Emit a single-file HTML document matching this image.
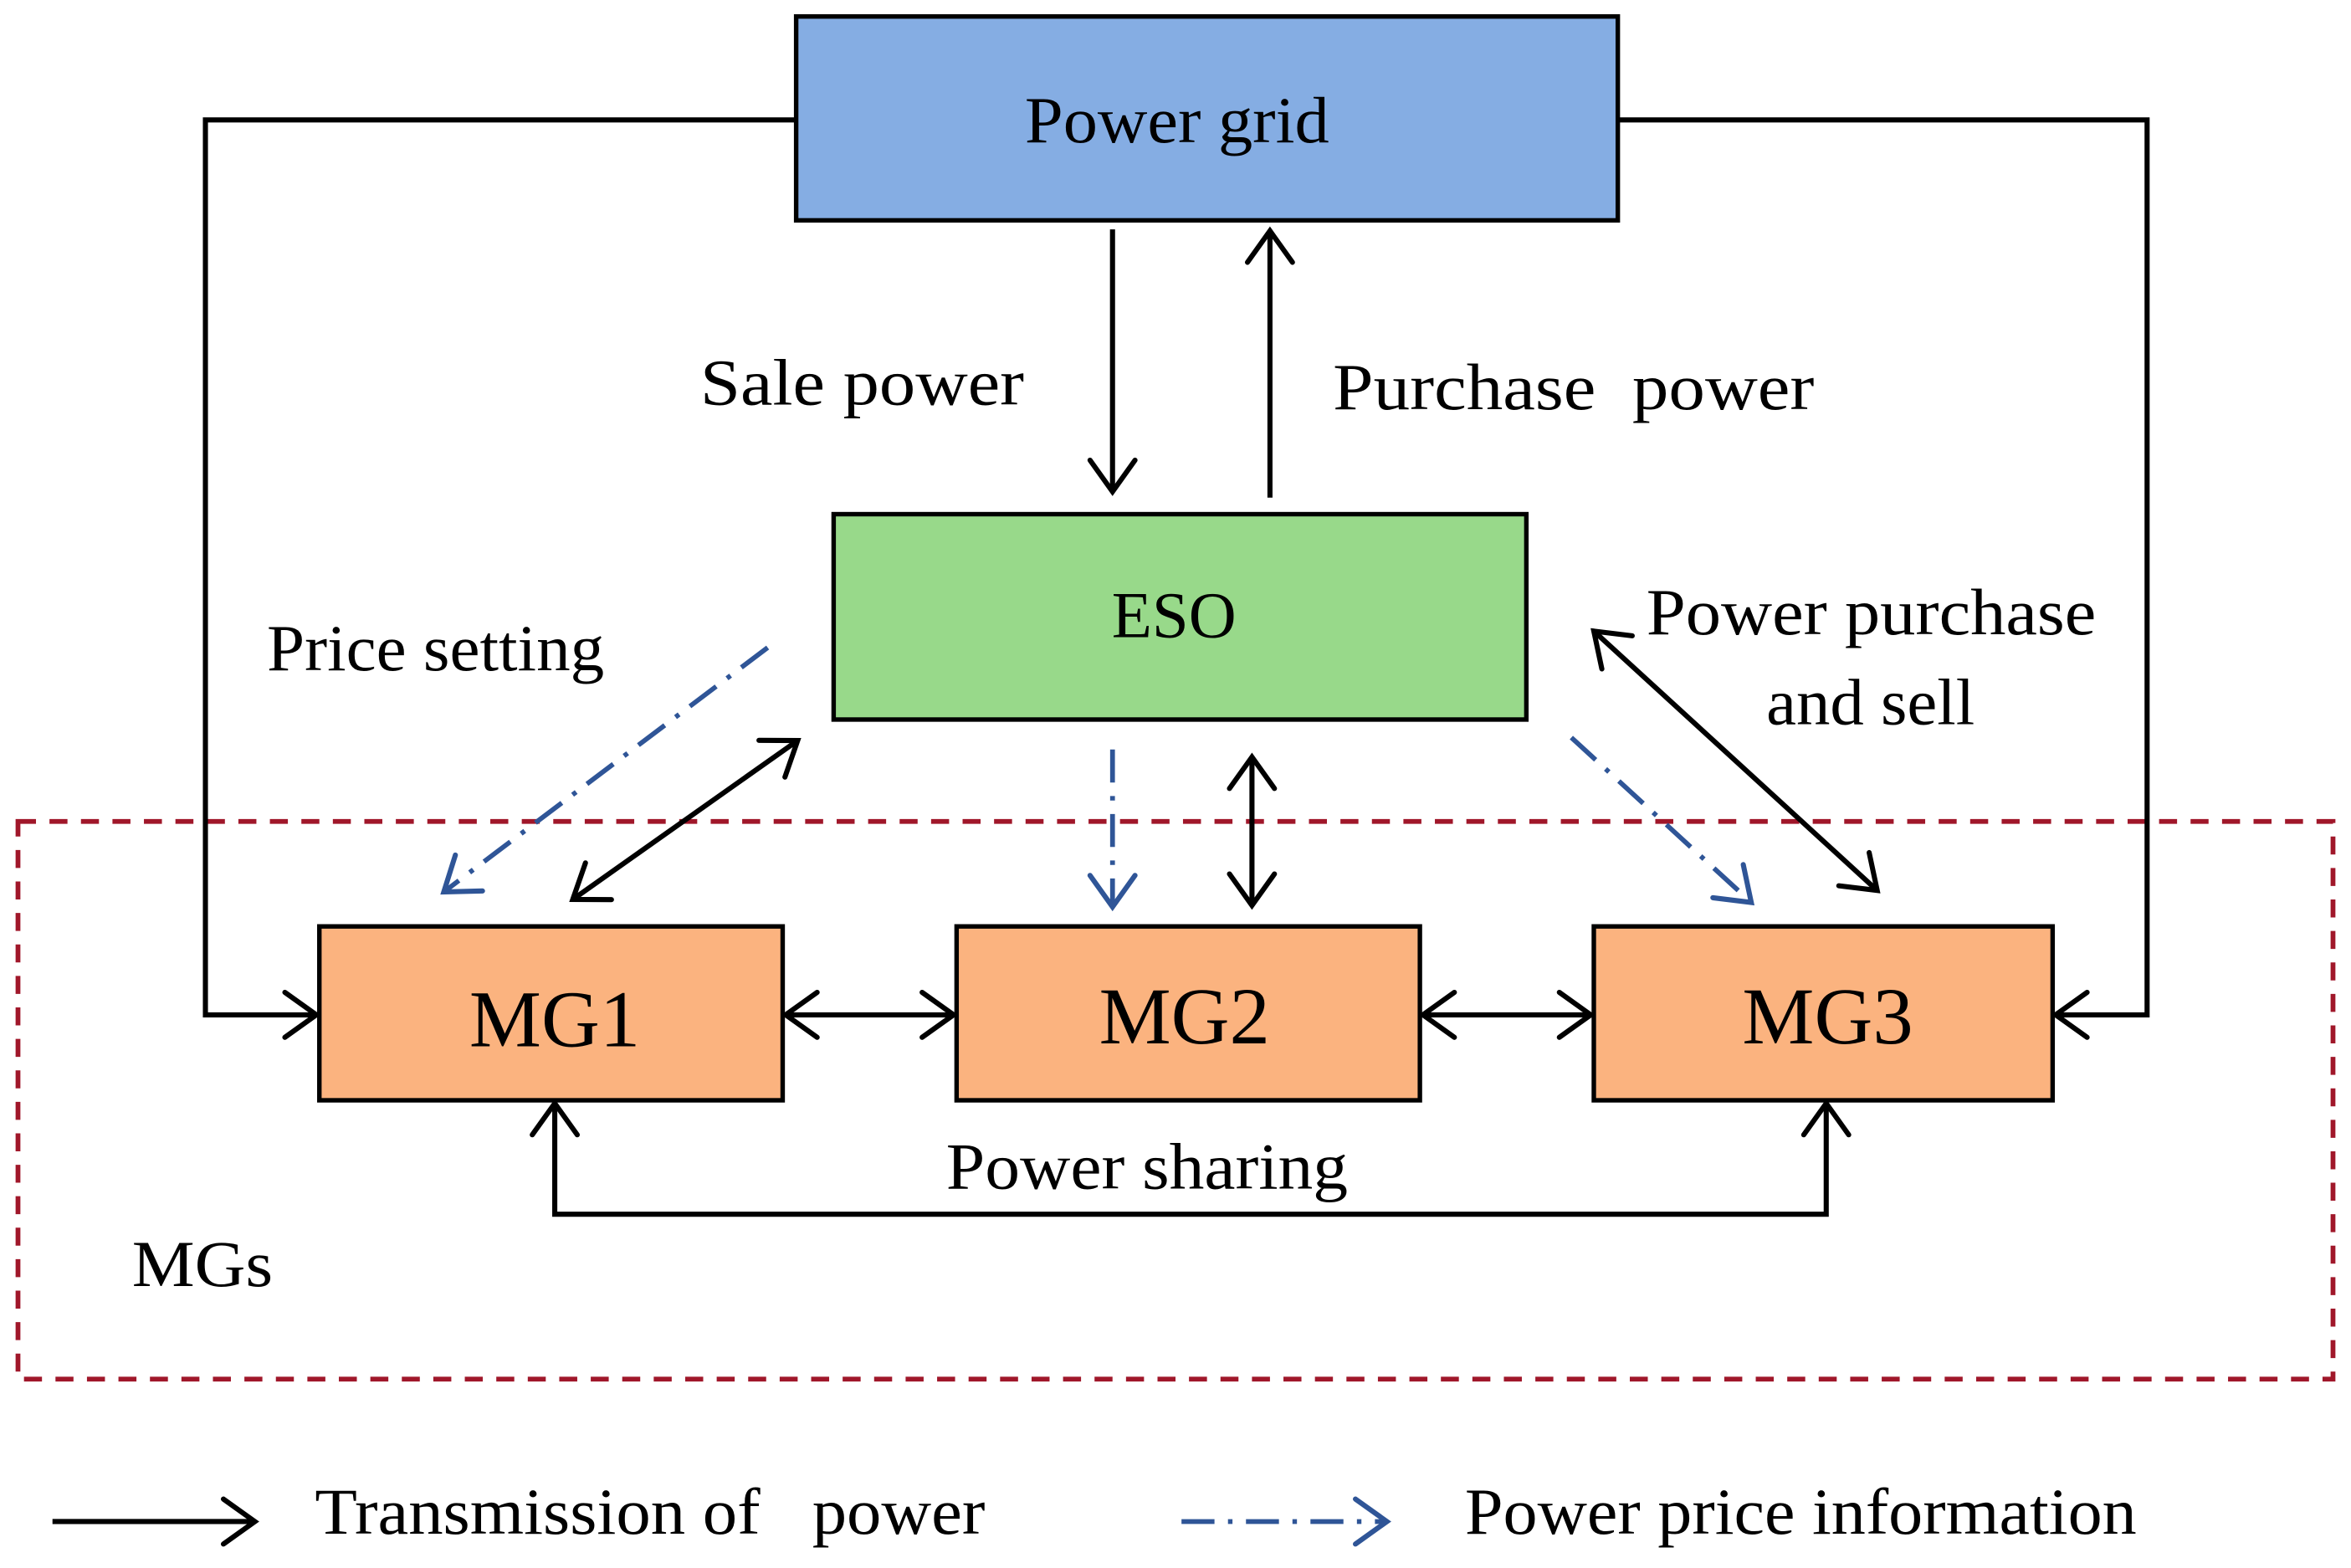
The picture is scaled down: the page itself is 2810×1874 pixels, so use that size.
<!DOCTYPE html>
<html><head><meta charset="utf-8"><style>
html,body{margin:0;padding:0;background:#fff}
svg{display:block}
text{font-family:"Liberation Serif",serif;fill:#000}
</style></head><body>
<svg width="2810" height="1874" viewBox="0 0 1568 1046" preserveAspectRatio="none" xmlns="http://www.w3.org/2000/svg">
<defs>
<marker id="a" viewBox="0 0 26 34" refX="23" refY="17" markerWidth="26" markerHeight="34" markerUnits="userSpaceOnUse" orient="auto-start-reverse">
<path d="M2 2 L23 17 L2 32" fill="none" stroke="#000" stroke-width="3.4" stroke-linecap="round"/></marker>
<marker id="b" viewBox="0 0 26 34" refX="23" refY="17" markerWidth="26" markerHeight="34" markerUnits="userSpaceOnUse" orient="auto">
<path d="M2 2 L23 17 L2 32" fill="none" stroke="#2F5597" stroke-width="3.4" stroke-linecap="round"/></marker>
</defs>
<rect x="12" y="548" width="1544" height="372" fill="none" stroke="#A0172A" stroke-width="3.2" stroke-dasharray="12,9"/>
<rect x="531" y="11" width="548" height="136" fill="#85ADE3" stroke="#000" stroke-width="3"/>
<text x="785" y="95" font-size="44" text-anchor="middle" textLength="203" lengthAdjust="spacingAndGlyphs">Power grid</text>
<rect x="556" y="343" width="462" height="137" fill="#98D98A" stroke="#000" stroke-width="3"/>
<text x="783" y="425" font-size="44" text-anchor="middle">ESO</text>
<rect x="213" y="618" width="309" height="116" fill="#FBB37F" stroke="#000" stroke-width="3"/>
<rect x="638" y="618" width="309" height="116" fill="#FBB37F" stroke="#000" stroke-width="3"/>
<rect x="1063" y="618" width="306" height="116" fill="#FBB37F" stroke="#000" stroke-width="3"/>
<text x="370" y="698" font-size="54" text-anchor="middle">MG1</text>
<text x="790" y="696" font-size="54" text-anchor="middle">MG2</text>
<text x="1219" y="696" font-size="54" text-anchor="middle">MG3</text>
<g stroke="#000" stroke-width="3.4" fill="none">
<line x1="742" y1="153" x2="742" y2="328" marker-end="url(#a)"/>
<line x1="847" y1="332" x2="847" y2="154" marker-end="url(#a)"/>
<polyline points="531,80 137,80 137,677 211,677" marker-end="url(#a)"/>
<polyline points="1079,80 1432,80 1432,677 1371,677" marker-end="url(#a)"/>
<line x1="524" y1="677" x2="636" y2="677" marker-start="url(#a)" marker-end="url(#a)"/>
<line x1="949" y1="677" x2="1061" y2="677" marker-start="url(#a)" marker-end="url(#a)"/>
<polyline points="370,736 370,810 1218,810 1218,736" marker-start="url(#a)" marker-end="url(#a)"/>
<line x1="382" y1="600" x2="532" y2="494" marker-start="url(#a)" marker-end="url(#a)"/>
<line x1="835" y1="505" x2="835" y2="604" marker-start="url(#a)" marker-end="url(#a)"/>
<line x1="1063" y1="421" x2="1252" y2="594" marker-start="url(#a)" marker-end="url(#a)"/>
<line x1="35" y1="1015" x2="170" y2="1015" marker-end="url(#a)"/>
</g>
<g stroke="#2F5597" stroke-width="3.2" fill="none" stroke-dasharray="22,9,3,9">
<line x1="512" y1="432" x2="296" y2="595" marker-end="url(#b)"/>
<line x1="742" y1="500" x2="742" y2="605" marker-end="url(#b)"/>
<line x1="1048" y1="492" x2="1168" y2="602" marker-end="url(#b)"/>
<line x1="788" y1="1015" x2="925" y2="1015" marker-end="url(#b)"/>
</g>
<g font-size="44">
<text x="467" y="270" textLength="216" lengthAdjust="spacingAndGlyphs">Sale power</text>
<text x="889" y="273" textLength="321" lengthAdjust="spacingAndGlyphs" xml:space="preserve">Purchase  power</text>
<text x="178" y="447" textLength="225" lengthAdjust="spacingAndGlyphs">Price setting</text>
<text x="1098" y="423" textLength="300" lengthAdjust="spacingAndGlyphs">Power purchase</text>
<text x="1178" y="483" textLength="139" lengthAdjust="spacingAndGlyphs">and sell</text>
<text x="631" y="793" textLength="268" lengthAdjust="spacingAndGlyphs">Power sharing</text>
<text x="88" y="858" textLength="94" lengthAdjust="spacingAndGlyphs">MGs</text>
<text x="210" y="1023" xml:space="preserve" textLength="447" lengthAdjust="spacingAndGlyphs">Transmission of   power</text>
<text x="977" y="1023" textLength="448" lengthAdjust="spacingAndGlyphs">Power price information</text>
</g>
</svg>
</body></html>
